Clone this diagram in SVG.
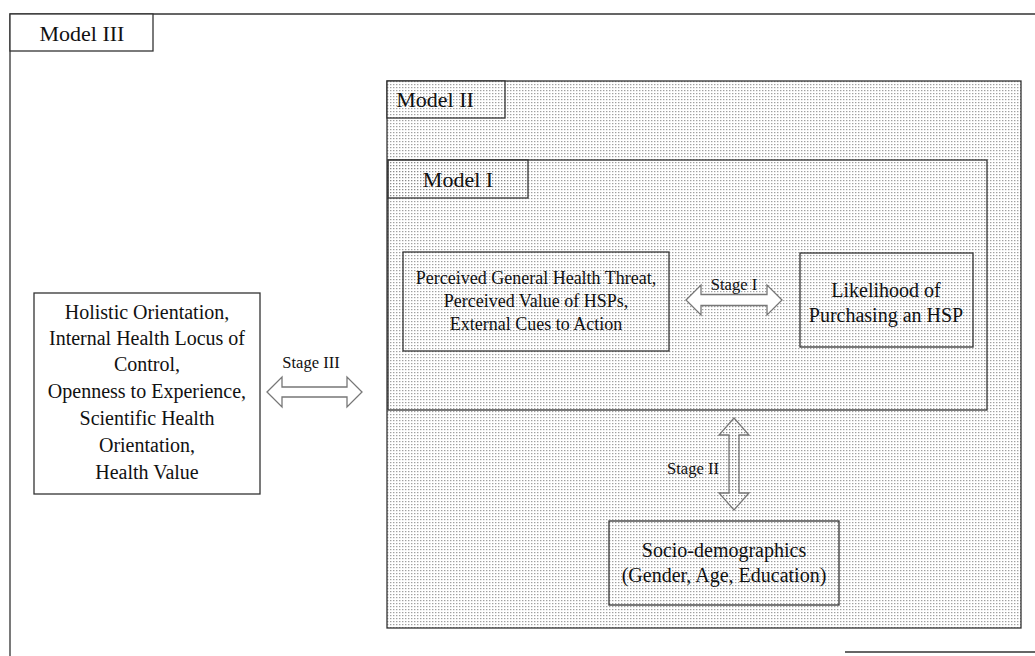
<svg xmlns="http://www.w3.org/2000/svg" width="1035" height="656" viewBox="0 0 1035 656">
  <defs>
    <!-- light stipple used for the shaded model areas -->
    <pattern id="dots" width="3" height="3" patternUnits="userSpaceOnUse">
      <rect width="3" height="3" fill="#ffffff"/>
      <rect x="0" y="0" width="1.4" height="1.2" fill="#a0a0a0"/>
    </pattern>
    <pattern id="dotsDense" width="3" height="3" patternUnits="userSpaceOnUse">
      <rect width="3" height="3" fill="#ffffff"/>
      <rect x="0" y="0" width="1.3" height="1.3" fill="#707070"/>
    </pattern>
    <style>
      .frame { fill: none; stroke: #333; stroke-width: 1.3; }
      .box { stroke: #333; stroke-width: 1.3; }
      .shade { fill: url(#dots); }
      .white { fill: #ffffff; }
      .arrow { stroke: #777; stroke-width: 1.3; }
      text { font-family: "Liberation Serif", "Times New Roman", serif; fill: #111; text-anchor: middle; }
      .title { font-size: 22px; }
      .body { font-size: 20px; }
      .small { font-size: 18px; }
      .stage { font-size: 16.5px; }
    </style>
  </defs>

  <!-- Model III outer frame (open on the right) -->
  <g id="model3">
    <path class="frame" d="M10,656 L10,14 L1035,14"/>
    <path class="frame" d="M845,652 L1035,652"/>
    <rect class="box white" x="10" y="14" width="143" height="37"/>
    <text class="title" x="82" y="41">Model III</text>
  </g>

  <!-- Model II shaded panel -->
  <g id="model2">
    <rect class="box shade" x="387" y="81" width="634" height="547"/>
    <rect class="box shade" x="387" y="81" width="118" height="37"/>
    <text class="title" x="435" y="107">Model II</text>
  </g>

  <!-- Model I panel nested in Model II -->
  <g id="model1">
    <rect class="box shade" x="388" y="160" width="599" height="250"/>
    <rect class="box" fill="url(#dotsDense)" fill-opacity="0.45" x="388" y="160" width="140" height="38"/>
    <text class="title" x="458" y="187">Model I</text>
  </g>

  <g id="perceived">
    <rect class="box shade" x="403" y="252" width="266" height="99"/>
    <text class="small" x="536" y="284">Perceived General Health Threat,</text>
    <text class="small" x="536" y="307">Perceived Value of HSPs,</text>
    <text class="small" x="536" y="330">External Cues to Action</text>
  </g>

  <g id="likelihood">
    <rect class="box shade" x="800" y="253" width="173" height="94"/>
    <text class="body" x="886" y="297">Likelihood of</text>
    <text class="body" x="886" y="322">Purchasing an HSP</text>
  </g>

  <g id="sociodemographics">
    <rect class="box shade" x="609" y="521" width="230" height="84"/>
    <text class="body" x="724" y="557">Socio-demographics</text>
    <text class="body" x="724" y="582">(Gender, Age, Education)</text>
  </g>

  <g id="personality">
    <rect class="box white" x="34" y="293" width="226" height="201"/>
    <text class="body" x="147" y="319">Holistic Orientation,</text>
    <text class="body" x="147" y="345">Internal Health Locus of</text>
    <text class="body" x="147" y="371">Control,</text>
    <text class="body" x="147" y="398">Openness to Experience,</text>
    <text class="body" x="147" y="425">Scientific Health</text>
    <text class="body" x="147" y="452">Orientation,</text>
    <text class="body" x="147" y="479">Health Value</text>
  </g>

  <!-- Block double arrows linking the stages -->
  <g id="connectors">
    <path class="arrow white" d="M267,392 L282,377 L282,387 L347,387 L347,377 L362,392 L347,407 L347,397 L282,397 L282,407 Z"/>
    <text class="stage" x="311" y="368">Stage III</text>

    <path class="arrow white" d="M686,300 L701,285 L701,294.5 L767,294.5 L767,285 L782,300 L767,315 L767,305.5 L701,305.5 L701,315 Z"/>
    <text class="stage" x="734" y="290">Stage I</text>

    <path class="arrow" fill="url(#dotsDense)" fill-opacity="0.6" d="M734,418 L749,435 L739,435 L739,493 L749,493 L734,510 L719,493 L729,493 L729,435 L719,435 Z"/>
    <text class="stage" x="693" y="474">Stage II</text>
  </g>
</svg>
